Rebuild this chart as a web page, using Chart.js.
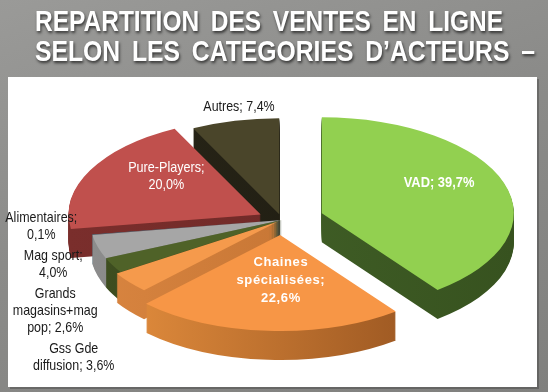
<!DOCTYPE html>
<html>
<head>
<meta charset="utf-8">
<script src="https://cdn.jsdelivr.net/npm/chart.js@4.4.1/dist/chart.umd.min.js"></script>
<style>
  html, body { margin: 0; padding: 0; }
  body {
    width: 548px; height: 392px; overflow: hidden;
    background: linear-gradient(160deg, #9a9a98 0%, #8b8b89 45%, #80807e 100%);
  }
  #pieChart { position: absolute; left: 0; top: 0; }
</style>
</head>
<body>
<canvas id="pieChart" width="548" height="392"></canvas>
<script>
// Data
var categories = ['VAD', 'Chaines spécialisées', 'Gss Gde diffusion', 'Grands magasins+mag pop', 'Mag sport', 'Alimentaires', 'Pure-Players', 'Autres'];
var shares = [39.7, 22.6, 3.6, 2.6, 4.0, 0.1, 20.0, 7.4];
// how each data label is wrapped, {v} is the share
var labelFormats = ['VAD; {v}', 'Chaines\nspécialisées;\n{v}', 'Gss Gde\ndiffusion; {v}', 'Grands\nmagasins+mag\npop; {v}', 'Mag sport;\n{v}', 'Alimentaires;\n{v}', 'Pure-Players;\n{v}', 'Autres; {v}'];
var titleLines = ['REPARTITION DES VENTES EN LIGNE', 'SELON LES CATEGORIES D\u2019ACTEURS \u2013'];

// Look of the 3D pie
var PIE_X = 282, PIE_Y = 220;   // where the pie centre lands on the page
var RADIUS = 192, TILT = 0.5, DEPTH = 29;
var explode = [42, 30, 5, 0, 0, 0, 24, 12];
var topColors = ['#92D050', '#F79646', '#F59A4C', '#4F6228', '#A6A6A6', '#31859C', '#C0504D', '#4A452A'];
var sideLight = ['#45652A', '#E8913F', '#D98540', '#3E4E20', '#8C8C8C', '#24677A', '#7A2E2C', '#2A2718'];
var sideDark  = ['#37521F', '#8F4E1D', '#B86A2C', '#33411A', '#707070', '#1B5060', '#6A2725', '#1A1810'];
// font, squeeze factor (no narrow face installed), line height
var insideStyles = {
    big:  { font: 'bold 15px "Liberation Sans", Arial, sans-serif', squeeze: 0.86, lineH: 17, spacing: '0px' },
    wide: { font: 'bold 13px "Liberation Sans", Arial, sans-serif', squeeze: 1, lineH: 18, spacing: '0.6px' },
    thin: { font: '15px "Liberation Sans", Arial, sans-serif', squeeze: 0.84, lineH: 17, spacing: '0px' }
};
var outsideStyle = { font: '15px "Liberation Sans", Arial, sans-serif', squeeze: 0.83, lineH: 17, spacing: '0px' };
var PANEL = { x: 8, y: 77, w: 529, h: 310 };

function formatShare(v) {
    return v.toFixed(1).replace('.', ',') + '%';
}

function labelText(i) {
    return labelFormats[i].replace('{v}', formatShare(shares[i]));
}

function midAngle(arc) {
    return (arc.startAngle + arc.endAngle) / 2;
}

// page position of a point at distance rho from the centre along the slice middle
function toPage(i, arc, rho) {
    var m = midAngle(arc);
    return {
        x: PIE_X + Math.cos(m) * (rho + explode[i]),
        y: PIE_Y + TILT * Math.sin(m) * (rho + explode[i])
    };
}

function drawSlice(ctx, chartCx, chartCy, arc, i, down, fill) {
    var m = midAngle(arc);
    ctx.save();
    ctx.translate(PIE_X, PIE_Y + down);
    ctx.scale(1, TILT);
    ctx.translate(-chartCx + Math.cos(m) * explode[i], -chartCy + Math.sin(m) * explode[i]);
    var saved = arc.options;
    arc.options = Object.assign({}, saved, { backgroundColor: fill, borderWidth: 0 });
    arc.draw(ctx);
    arc.options = saved;
    ctx.restore();
}

function drawBlock(ctx, lines, x, y, style, align) {
    ctx.font = style.font;
    try { ctx.letterSpacing = style.spacing; } catch (e) {}
    var lineH = style.lineH;
    var top = y - (lines.length * lineH) / 2 + lineH / 2;
    ctx.textAlign = 'center';
    var w = 0;
    lines.forEach(function(l) { w = Math.max(w, ctx.measureText(l).width * style.squeeze); });
    var cx = align === 'right' ? x - w / 2 : x;
    lines.forEach(function(l, k) {
        ctx.fillText(l, cx, top + k * lineH, ctx.measureText(l).width * style.squeeze);
    });
}

function drawLabels(ctx, arcs) {
    ctx.save();
    ctx.textBaseline = 'middle';
    var leftSide = [];
    arcs.forEach(function(arc, i) {
        var lines = labelText(i).split('\n');
        var m = midAngle(arc);
        if (shares[i] >= 10) {
            var p = toPage(i, arc, arc.outerRadius * 0.6);
            ctx.fillStyle = '#ffffff';
            var st = topColors[i] === '#C0504D' ? insideStyles.thin : (lines.length > 2 ? insideStyles.wide : insideStyles.big);
            drawBlock(ctx, lines, p.x + 8, p.y - 12, st, 'center');
        } else if (Math.cos(m) < -0.5) {
            var q = toPage(i, arc, arc.outerRadius);
            leftSide.push({ lines: lines, x: q.x - 15, y: q.y - 8 });
        } else {
            var r = toPage(i, arc, arc.outerRadius);
            ctx.fillStyle = '#1a1a1a';
            drawBlock(ctx, lines, r.x + 4, r.y - 14, outsideStyle, 'center');
        }
    });
    // stack the small slice labels on the left so they do not overlap
    leftSide.sort(function(a, b) { return a.y - b.y; });
    var prevBottom = -Infinity;
    ctx.fillStyle = '#1a1a1a';
    leftSide.forEach(function(item) {
        var h = item.lines.length * outsideStyle.lineH;
        var top = Math.max(item.y - h / 2, prevBottom + 4);
        drawBlock(ctx, item.lines, item.x, top + h / 2, outsideStyle, 'right');
        prevBottom = top + h;
    });
    ctx.restore();
}

var pie3d = {
    id: 'pie3d',
    beforeDraw: function(chart) {
        var ctx = chart.ctx;
        ctx.save();
        ctx.fillStyle = 'rgba(50,50,50,0.35)';
        ctx.fillRect(PANEL.x + 2, PANEL.y + 2, PANEL.w, PANEL.h);
        ctx.fillStyle = '#ffffff';
        ctx.fillRect(PANEL.x, PANEL.y, PANEL.w, PANEL.h);

        ctx.font = 'bold 30px "Liberation Sans", Arial, sans-serif';
        ctx.fillStyle = '#ffffff';
        ctx.textBaseline = 'middle';
        ctx.textAlign = 'left';
        try { ctx.wordSpacing = '6px'; } catch (e) {}
        ctx.shadowColor = 'rgba(0,0,0,0.65)';
        ctx.shadowBlur = 3;
        ctx.shadowOffsetX = 1;
        ctx.shadowOffsetY = 2;
        ctx.fillText(titleLines[0], 35, 23, 468);
        ctx.fillText(titleLines[1], 35, 53, 500);
        ctx.restore();
    },
    beforeDatasetsDraw: function(chart) {
        var ctx = chart.ctx;
        var arcs = chart.getDatasetMeta(0).data;
        var cx = arcs[0].x, cy = arcs[0].y;
        var order = arcs.map(function(a, i) { return i; }).sort(function(a, b) {
            return Math.sin(midAngle(arcs[a])) - Math.sin(midAngle(arcs[b]));
        });
        // the sides, stacked downwards
        order.forEach(function(i) {
            var g = ctx.createLinearGradient(cx - RADIUS, 0, cx + RADIUS, 0);
            g.addColorStop(0, sideLight[i]);
            g.addColorStop(1, sideDark[i]);
            for (var d = DEPTH; d > 0; d--) {
                drawSlice(ctx, cx, cy, arcs[i], i, d, g);
            }
        });
        // the top faces
        order.forEach(function(i) {
            drawSlice(ctx, cx, cy, arcs[i], i, 0, topColors[i]);
        });
        drawLabels(ctx, arcs);
        return false;
    }
};

var pieChart = new Chart(document.getElementById('pieChart').getContext('2d'), {
    type: 'pie',
    data: {
        labels: categories,
        datasets: [{
            data: shares,
            backgroundColor: topColors,
            borderWidth: 0,
            radius: RADIUS,
            clip: false
        }]
    },
    options: {
        responsive: false,
        animation: false,
        devicePixelRatio: 1,
        events: [],
        plugins: {
            legend: { display: false },
            tooltip: { enabled: false }
        }
    },
    plugins: [pie3d]
});
</script>
</body>
</html>
